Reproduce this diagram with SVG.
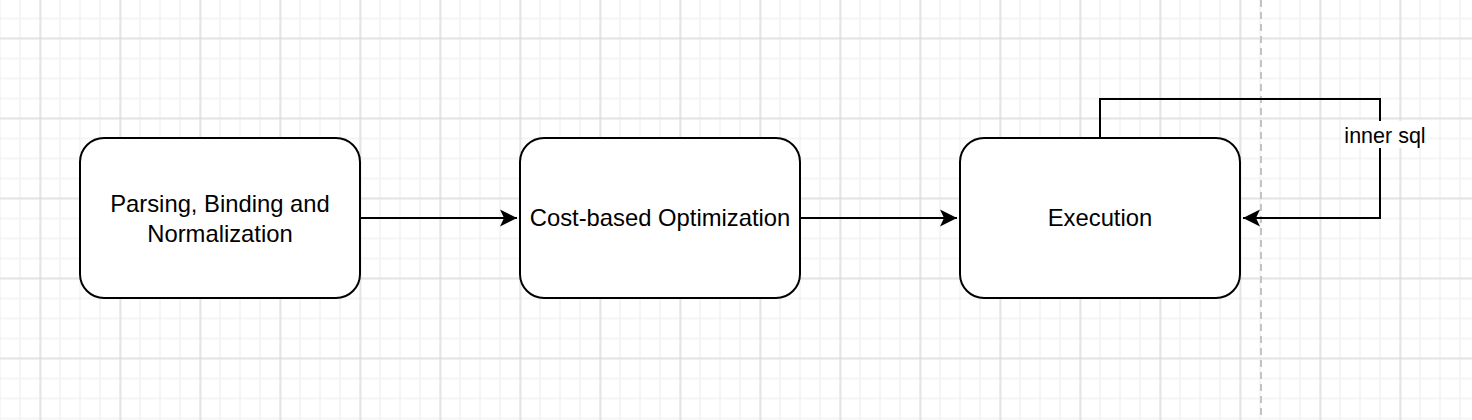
<svg xmlns="http://www.w3.org/2000/svg" width="1472" height="420" viewBox="0 0 1472 420">
<style>
.node rect{fill:#ffffff;stroke:#000000;stroke-width:2}
.lbl{font-family:"Liberation Sans",Arial,Helvetica,sans-serif;font-size:23.8px;fill:#000000;text-anchor:middle}
.elbl{font-family:"Liberation Sans",Arial,Helvetica,sans-serif;font-size:21.5px;fill:#000000;text-anchor:middle}
.edge{fill:none;stroke:#000000;stroke-width:2}
</style>
<defs>
<pattern id="minor" width="20" height="20" patternUnits="userSpaceOnUse" x="-10" y="8.5">
<path d="M10 0V20M0 10H20" stroke="#f2f2f2" stroke-width="1.5" fill="none"/>
</pattern>
<pattern id="major" width="80" height="80" patternUnits="userSpaceOnUse" x="0.5" y="-1.5">
<path d="M40 0V80M0 40H80" stroke="#d3d3d3" stroke-width="1" fill="none"/>
</pattern>
<marker id="arrow" markerUnits="userSpaceOnUse" markerWidth="20" markerHeight="20" viewBox="0 0 20 20" refX="17" refY="10" orient="auto">
<path d="M17 10L0 1.5L4 10L0 18.5Z" fill="#000000"/>
</marker>
</defs>
<rect width="1472" height="420" fill="#ffffff"/>
<rect width="1472" height="420" fill="url(#minor)"/>
<rect width="1472" height="420" fill="url(#major)"/>
<line x1="1261" y1="0" x2="1261" y2="420" stroke="#c4c4c4" stroke-width="2" stroke-dasharray="7 5"/>
<g id="connectors">
<path class="edge" d="M360 218H517" marker-end="url(#arrow)"/>
<path class="edge" d="M800 218H957" marker-end="url(#arrow)"/>
<path class="edge" d="M1100 138V99H1380V218H1243" marker-end="url(#arrow)"/>
<rect x="1342" y="121" width="86" height="27" fill="#ffffff"/>
<text class="elbl" x="1385" y="142.5">inner sql</text>
</g>
<g id="node-parsing" class="node">
<rect x="80" y="138" width="280" height="160" rx="24" ry="24"/>
<text class="lbl" x="220" y="212">Parsing, Binding and</text>
<text class="lbl" x="220" y="242">Normalization</text>
</g>
<g id="node-optimization" class="node">
<rect x="520" y="138" width="280" height="160" rx="24" ry="24"/>
<text class="lbl" x="660" y="226">Cost-based Optimization</text>
</g>
<g id="node-execution" class="node">
<rect x="960" y="138" width="280" height="160" rx="24" ry="24"/>
<text class="lbl" x="1100" y="226">Execution</text>
</g>
</svg>
